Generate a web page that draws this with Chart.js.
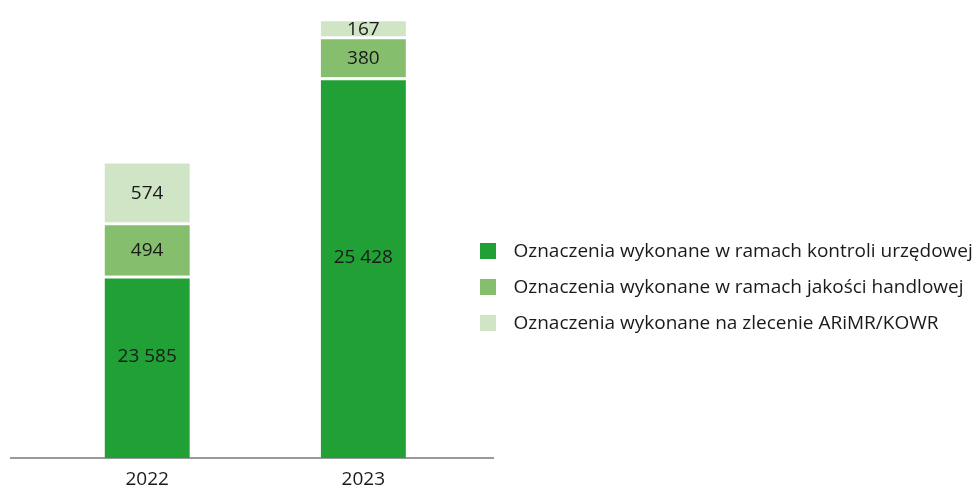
<!DOCTYPE html>
<html lang="pl">
<head>
    <meta charset="UTF-8">
    <meta name="viewport" content="width=device-width, initial-scale=1.0">
    <script src="https://cdn.jsdelivr.net/npm/chart.js"></script>
    <title>Oznaczenia 2022-2023</title>
    <style>
      body { margin: 0; background: #fff; }
      #wrap { width: 976px; height: 489px; }
    </style>
</head>
<body>
    <div id="wrap">
      <canvas id="myChart"></canvas>
    </div>

    <script>
      const years = [2022, 2023];
      const kontrola = [23585, 25428];
      const jakosc = [494, 380];
      const zlecenie = [574, 167];
      const seriesNames = [
        'Oznaczenia wykonane w ramach kontroli urzędowej',
        'Oznaczenia wykonane w ramach jakości handlowej',
        'Oznaczenia wykonane na zlecenie ARiMR/KOWR'
      ];
      const colors = ['#21a135', '#85be6d', '#d0e5c6'];

      const FONT = "'Open Sans', sans-serif";
      const GAP = 3;

      function fmt(n) {
        return String(n).replace(/\B(?=(\d{3})+(?!\d))/g, ' ');
      }

      function swatch(color) {
        const c = document.createElement('canvas');
        c.width = 16;
        c.height = 16;
        const g = c.getContext('2d');
        g.fillStyle = color;
        g.fillRect(0, 0, 16, 16);
        return c;
      }

      // value labels in the middle of every segment
      const segLabels = {
        id: 'segLabels',
        afterDatasetsDraw(chart) {
          const ctx = chart.ctx;
          const bottom = chart.chartArea.bottom;
          ctx.save();
          ctx.font = '19px ' + FONT;
          ctx.fillStyle = '#1a1a1a';
          ctx.textAlign = 'center';
          ctx.textBaseline = 'middle';
          chart.data.datasets.forEach((ds, i) => {
            chart.getDatasetMeta(i).data.forEach((bar, j) => {
              const shift = i === 0 ? -12 : 0;
              const base = Math.min(bar.base, bottom);
              const y = (bar.y + GAP + base) / 2 + shift;
              ctx.fillText(fmt(ds.data[j].y), bar.x, y);
            });
          });
          ctx.restore();
        }
      };

      // legend sits right next to the axis end
      const legendPlace = {
        id: 'legendPlace',
        afterLayout(chart) {
          const lg = chart.legend;
          const pad = lg.options.labels.padding;
          lg.left = 472 - pad;
          lg.right = chart.width;
          lg.top = 241.7 - pad;
          lg.bottom = chart.height;
        }
      };

      const mk = (vals, k) => ({
        label: seriesNames[k],
        data: years.map((yr, i) => ({ x: yr, y: vals[i] })),
        backgroundColor: colors[k],
        borderColor: '#ffffff',
        borderWidth: { top: GAP, left: 0, right: 0, bottom: 0 },
        borderSkipped: false,
        barThickness: 85
      });

      new Chart(document.getElementById('myChart'), {
        type: 'bar',
        data: {
          datasets: [mk(kontrola, 0), mk(jakosc, 1), mk(zlecenie, 2)]
        },
        options: {
          responsive: true,
          maintainAspectRatio: false,
          animation: false,
          layout: { padding: { left: 11, top: 16, right: 0, bottom: -13 } },
          scales: {
            x: {
              type: 'linear',
              stacked: true,
              offset: false,
              min: 2021.37,
              max: 2023.6,
              z: 1,
              grid: { display: false, drawTicks: false, offset: false },
              border: { display: true, color: '#9a9a9a', width: 2 },
              afterBuildTicks: (scale) => {
                scale.ticks = years.map(v => ({ value: v }));
              },
              ticks: {
                padding: 11.5,
                color: '#1a1a1a',
                font: { family: FONT, size: 19, lineHeight: 1.1 },
                callback: (v) => String(v)
              }
            },
            y: {
              stacked: true,
              display: false,
              min: 21890,
              max: 26000
            }
          },
          plugins: {
            tooltip: { enabled: false },
            legend: {
              position: 'right',
              align: 'start',
              maxWidth: 483,
              labels: {
                usePointStyle: true,
                pointStyleWidth: 32,
                boxHeight: 16,
                padding: 17,
                color: '#1a1a1a',
                font: { family: FONT, size: 19 },
                generateLabels: (chart) => {
                  const items = Chart.defaults.plugins.legend.labels.generateLabels(chart);
                  return items.map((it, k) => Object.assign(it, {
                    pointStyle: swatch(colors[k]),
                    lineWidth: 0,
                    strokeStyle: 'rgba(0,0,0,0)'
                  }));
                }
              }
            }
          }
        },
        plugins: [segLabels, legendPlace]
      });
    </script>
 </body>
</html>
